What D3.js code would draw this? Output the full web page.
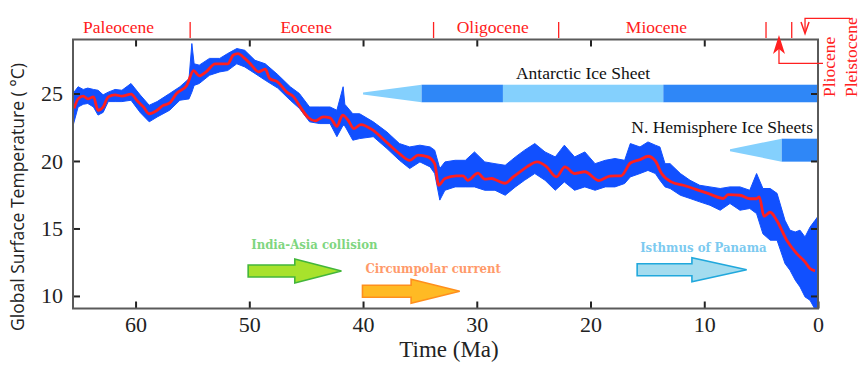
<!DOCTYPE html>
<html><head><meta charset="utf-8">
<script src="https://cdn.jsdelivr.net/npm/d3@7"></script>
<style>
html,body{margin:0;padding:0;background:#fff;}
svg{display:block;}
</style></head>
<body>
<svg id="chart" width="864" height="369"></svg>
<script>
// ---------------- DATA ----------------
// smoothed record (red): time (Ma), temperature (°C)
const smoothTime = [65.4,65.05,64.6,64.2,63.7,63.3,62.85,62.4,61.8,61.2,60.4,59.8,59.3,58.8,58.2,57.6,57.0,56.4,55.5,54.9,54.4,53.8,53.0,52.3,51.9,51.4,51.0,50.4,49.8,49.2,48.6,48.2,47.5,46.7,46.1,45.6,44.8,44.2,43.5,42.9,42.3,41.8,41.3,40.8,40.2,39.1,37.96,36.8,35.9,35.15,34.3,33.7,33.35,32.8,31.8,31.2,30.8,29.9,29.3,28.7,28.26,27.5,26.8,26.2,25.6,24.7,23.9,23.0,22.25,21.4,20.5,19.25,18.3,17.3,16.5,15.65,14.95,14.3,13.75,12.9,11.85,10.67,9.5,8.33,7.9,6.86,5.98,5.4,5.16,4.75,4.2,3.63,2.75,1.87,1.14,0.7,0.26];
const smoothTemp = [23.9,24.6,24.8,24.6,24.75,23.75,24.0,24.75,24.9,24.8,24.95,24.4,24.0,23.5,23.7,24.1,24.3,25.0,25.6,26.7,26.3,26.6,27.2,27.2,27.2,27.85,27.95,27.6,27.1,26.6,26.8,26.1,25.85,25.1,24.75,24.1,23.2,22.97,23.26,23.2,22.57,23.4,23.0,22.4,22.7,22.27,21.41,20.55,20.05,20.43,20.3,19.8,18.2,18.7,18.9,18.9,18.57,19.1,18.65,18.7,18.57,18.35,18.82,19.2,19.56,19.93,19.6,18.82,19.56,19.07,19.2,18.55,18.88,18.9,19.85,20.1,20.35,20.0,19.07,18.45,18.2,17.88,17.54,17.22,17.5,17.46,17.2,17.2,17.34,15.9,16.2,15.6,14.13,13.14,12.52,12.03,11.86];

// high-resolution record (blue): envelope
const rawTime = [65.5,65.05,64.6,64.2,63.7,63.3,62.85,62.4,61.8,61.2,60.4,59.6,58.8,58.1,57.0,56.1,55.3,55.05,54.85,54.4,53.5,52.6,51.9,51.1,50.4,49.5,48.6,47.5,46.4,45.6,44.7,43.8,42.9,42.3,41.75,41.6,40.9,40.3,39.1,37.9,36.8,35.9,35.0,34.1,33.7,33.25,32.8,31.9,31.0,30.2,29.3,28.4,27.5,26.6,25.8,24.9,24.0,23.1,22.3,21.4,20.5,19.6,18.7,17.85,17.0,16.5,15.65,14.95,14.3,13.9,13.45,13.0,12.1,11.25,10.4,9.5,8.6,7.74,6.86,6.0,5.4,4.84,4.2,3.6,2.9,2.46,2.0,1.58,1.14,0.7,0.26,0.0];
const rawHigh = [25.0,25.5,25.3,25.4,25.3,25.24,24.9,25.1,25.3,25.24,25.74,24.9,24.13,24.4,25.0,25.5,26.1,28.7,27.2,27.1,27.6,27.6,27.96,28.33,28.2,27.46,27.2,26.4,25.5,25.0,24.0,24.0,24.0,23.76,25.5,24.2,23.5,23.5,22.9,22.15,21.29,21.04,21.17,21.04,20.8,19.44,19.93,20.05,20.05,20.67,19.93,19.8,19.68,20.3,20.8,21.29,20.67,20.3,21.17,20.3,20.67,19.8,20.05,20.18,20.05,21.29,21.04,21.41,21.17,21.04,19.8,19.8,19.07,18.57,18.2,18.08,17.96,18.08,18.08,17.83,19.07,17.96,17.96,17.6,15.6,14.87,14.74,14.87,14.37,15.1,15.6,15.9];
const rawLow  = [22.6,24.0,24.2,24.26,24.0,23.4,23.6,24.4,24.4,24.4,24.5,23.6,22.9,23.26,23.76,24.5,24.6,25.1,25.6,25.74,26.35,26.6,26.7,27.2,26.97,26.48,25.98,25.4,24.5,23.9,22.9,22.77,22.77,21.8,22.65,22.6,21.54,21.66,21.8,20.92,20.05,19.44,19.93,19.56,19.07,17.1,17.83,18.08,18.08,18.08,17.83,17.83,17.46,18.08,18.57,19.07,18.57,17.83,18.45,17.83,18.08,17.83,18.08,18.08,18.33,18.82,19.07,19.3,19.07,18.57,18.08,17.96,17.46,17.22,16.97,16.72,16.35,16.85,16.35,16.48,16.1,14.6,14.13,14.13,12.4,11.9,11.17,10.67,9.93,9.68,9.0,9.0];

// axis ticks
const xTicks = [60,50,40,30,20,10,0];
const yTicks = [10,15,20,25];

// geological epochs (boundaries in Ma, as drawn)
const epochNames  = ["Paleocene","Eocene","Oligocene","Miocene"];
const epochCenters = [61.5,45.0,28.6,14.2];
const epochBounds = [55.2,33.8,22.8,4.57,2.31];
const shortEpochs = ["Pliocene","Pleistocene"];
const shortEpochMid = [3.43,1.14];

// ice sheets: [from Ma, to Ma, state]
const antarcticSegs = [[40.0,34.85,"onset"],[34.85,27.7,"full"],[27.7,13.6,"partial"],[13.6,0,"full"]];
const antarcticRange = [24.35,25.65];
const nhSegs = [[7.74,3.19,"onset"],[3.19,0,"full"]];
const nhRange = [19.95,21.65];

// tectonic events: label, start Ma, end Ma, temperature level
const eventLabels = ["India-Asia collision","Circumpolar current","Isthmus of Panama"];
const eventStart = [50.1,40.05,15.9];
const eventEnd   = [41.9,31.5,6.27];
const eventLevel = [11.85,10.35,11.94];

// ---------------- DRAWING ----------------
const svg = d3.select("#chart");
const L=73, R=818, T=39.5, B=308.5;
const x = d3.scaleLinear().domain([65.5,0]).range([L,R]);
const y = d3.scaleLinear().domain([9.07,29.0]).range([B,T]);
const serif = "'Liberation Serif','Times New Roman',serif";

svg.append("defs").append("clipPath").attr("id","plotclip")
  .append("rect").attr("x",L).attr("y",T).attr("width",R-L).attr("height",B-T);

// ice sheet bars
const colDark = "#2f87f7", colLight = "#84d0fd";
function iceBar(segs, range){
  const g = svg.append("g");
  const y0 = y(range[1]), y1 = y(range[0]), yc=(y0+y1)/2;
  segs.forEach(s=>{
    const xa = x(s[0]), xb = x(s[1]);
    if(s[2]==="onset"){
      g.append("path").attr("d",`M${xa},${yc-1} L${xb},${y0} L${xb},${y1} L${xa},${yc+1} Z`).attr("fill",colLight);
    } else {
      g.append("rect").attr("x",xa).attr("y",y0).attr("width",xb-xa).attr("height",y1-y0)
        .attr("fill", s[2]==="full"?colDark:colLight);
    }
  });
}
iceBar(antarcticSegs, antarcticRange);
iceBar(nhSegs, nhRange);

svg.append("text").attr("x",583).attr("y",y(antarcticRange[1])-6).attr("text-anchor","middle")
  .attr("font-family",serif).attr("font-size",17.5).attr("fill","#111").text("Antarctic Ice Sheet");
svg.append("text").attr("x",813).attr("y",y(nhRange[1])-6).attr("text-anchor","end")
  .attr("font-family",serif).attr("font-size",17.5).attr("fill","#111").text("N. Hemisphere Ice Sheets");

// blue high-res band
const rawData = rawTime.map((t,i)=>({t,hi:rawHigh[i],lo:rawLow[i]}));
const plotG = svg.append("g").attr("clip-path","url(#plotclip)");
plotG.append("path").datum(rawData)
  .attr("d", d3.area().x(d=>x(d.t)).y0(d=>y(d.lo)).y1(d=>y(d.hi)).curve(d3.curveLinear))
  .attr("fill","#1150ff").attr("stroke","#1150ff").attr("stroke-width",1).attr("stroke-linejoin","miter");

// red smooth curve
const smoothData = smoothTime.map((t,i)=>({t,v:smoothTemp[i]}));
plotG.append("path").datum(smoothData)
  .attr("d", d3.line().x(d=>x(d.t)).y(d=>y(d.v)).curve(d3.curveMonotoneX))
  .attr("fill","none").attr("stroke","#ff1f1f").attr("stroke-width",2.8).attr("stroke-linejoin","round");

// event arrows
const evFill = ["#a8e22c","#ffba24","#a4dcef"];
const evStroke = ["#43b63a","#ff8f1c","#21a8dc"];
const evText = ["#7fd67f","#ff9a6a","#7ccaf0"];
eventLabels.forEach((lab,i)=>{
  const x0=x(eventStart[i]), x1=x(eventEnd[i]), yc=y(eventLevel[i]);
  const xh = x1-(x1-x0)*0.5, bh=6, hh=12;
  svg.append("path")
    .attr("d",`M${x0},${yc-bh} L${xh},${yc-bh} L${xh},${yc-hh} L${x1},${yc} L${xh},${yc+hh} L${xh},${yc+bh} L${x0},${yc+bh} Z`)
    .attr("fill",evFill[i]).attr("stroke",evStroke[i]).attr("stroke-width",1.6).attr("stroke-linejoin","miter");
  svg.append("text").attr("x",x0+3).attr("y",yc-(i===0?22:18))
    .attr("font-family","'DejaVu Serif Condensed','DejaVu Serif',serif").attr("font-weight","bold")
    .attr("font-size",13).attr("fill",evText[i]).text(lab);
});

// frame + axes
const axisG = svg.append("g");
axisG.append("g").attr("transform",`translate(0,${B})`)
  .call(d3.axisBottom(x).tickValues(xTicks).tickSize(-7).tickPadding(8).tickFormat(d3.format("d")));
axisG.append("g").attr("transform",`translate(0,${T})`)
  .call(d3.axisTop(x).tickValues(xTicks.filter(d=>d>0)).tickSize(-7).tickFormat(""));
axisG.append("g").attr("transform",`translate(${L},0)`)
  .call(d3.axisLeft(y).tickValues(yTicks).tickSize(-7).tickPadding(10));
axisG.append("g").attr("transform",`translate(${R},0)`)
  .call(d3.axisRight(y).tickValues(yTicks).tickSize(-7).tickFormat(""));
axisG.selectAll(".domain").remove();
axisG.selectAll(".tick line").attr("stroke","#222").attr("stroke-width",2);
axisG.selectAll(".tick text").attr("font-family",serif).attr("font-size",22).attr("fill","#222");
svg.append("rect").attr("x",L).attr("y",T).attr("width",R-L).attr("height",B-T)
  .attr("fill","none").attr("stroke","#5a5a5a").attr("stroke-width",2);

// axis titles
svg.append("text").attr("x",449).attr("y",357).attr("text-anchor","middle")
  .attr("font-family",serif).attr("font-size",23).attr("fill","#222").text("Time (Ma)");
svg.append("text").attr("transform","translate(24,197) rotate(-90)").attr("text-anchor","middle")
  .attr("font-family","'Open Sans',sans-serif").attr("font-size",17.5).attr("fill","#222")
  .text("Global Surface Temperature ( °C)");

// epochs
const red = "#ff2020";
epochNames.forEach((n,i)=>{
  svg.append("text").attr("x",x(epochCenters[i])).attr("y",33).attr("text-anchor","middle")
    .attr("font-family",serif).attr("font-size",17.5).attr("fill",red).text(n);
});
epochBounds.forEach(b=>{
  svg.append("line").attr("x1",x(b)).attr("x2",x(b)).attr("y1",22).attr("y2",38)
    .attr("stroke",red).attr("stroke-width",1.3);
});
// Pliocene / Pleistocene labels & arrows
svg.append("text").attr("transform","translate(835,97) rotate(-90)")
  .attr("font-family",serif).attr("font-size",17.5).attr("fill",red).text(shortEpochs[0]);
svg.append("text").attr("transform","translate(857,97) rotate(-90)")
  .attr("font-family",serif).attr("font-size",17.5).attr("fill",red).text(shortEpochs[1]);
const xp = x(shortEpochMid[0]), xq = x(shortEpochMid[1]);
svg.append("path").attr("d",`M823,63.3 L${xp},63.3 L${xp},46`).attr("fill","none").attr("stroke",red).attr("stroke-width",1.3);
svg.append("path").attr("d",`M${xp},35 L${xp+6},54 L${xp},49 L${xp-6},54 Z`).attr("fill",red);
svg.append("path").attr("d",`M850,18.3 L${xq},18.3 L${xq},33`).attr("fill","none").attr("stroke",red).attr("stroke-width",1.3);
svg.append("path").attr("d",`M${xq-4},22 L${xq},33.5 L${xq+4},22`).attr("fill","none").attr("stroke",red).attr("stroke-width",1.5);
</script>
</body></html>
